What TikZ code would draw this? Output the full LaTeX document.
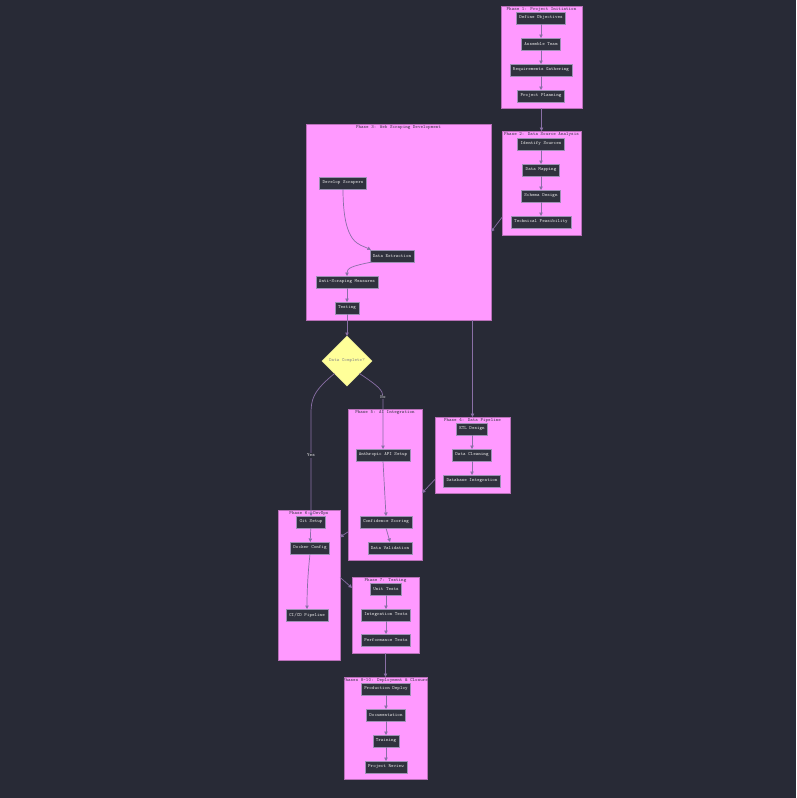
\documentclass[tikz,border=0pt]{standalone}
\usepackage{fontspec}
\usepackage{tikz}
\usetikzlibrary{shapes.geometric,arrows.meta}
\definecolor{bgdark}{HTML}{282A36}
\definecolor{phasefill}{HTML}{FF99FF}
\definecolor{phaseline}{HTML}{B870B8}
\definecolor{phasetext}{HTML}{3C3A48}
\definecolor{taskfill}{HTML}{30323E}
\definecolor{taskline}{HTML}{9C90B4}
\definecolor{tasktext}{HTML}{E4E4E4}
\definecolor{flowline}{HTML}{8A6FA6}
\definecolor{askfill}{HTML}{FFFF99}
\definecolor{asktext}{HTML}{8A8A8A}
\newcommand{\monotiny}{\ttfamily\fontsize{4.8}{5}\selectfont}
\tikzset{
  phase/.style={draw=phaseline, fill=phasefill, line width=0.5pt, inner sep=0pt, outer sep=0pt},
  phasetitle/.style={anchor=north, yshift=-1pt, inner sep=0pt, text=phasetext, font=\monotiny},
  task/.style={draw=taskline, fill=taskfill, text=tasktext, line width=0.5pt, font=\monotiny,
    minimum height=12pt, inner xsep=3pt, inner ysep=0pt, outer sep=0pt},
  ask/.style={diamond, aspect=1, draw=askfill!80!gray, fill=askfill, text=asktext, font=\monotiny,
    minimum width=50pt, minimum height=50pt, inner sep=0pt, outer sep=0pt},
  flow/.style={draw=flowline, line width=0.7pt, ->},
  answer/.style={fill=bgdark, text=tasktext, font=\monotiny, inner sep=1pt}
}
\begin{document}
\begin{tikzpicture}[x=1pt,y=-1pt,>={Triangle[length=3.5pt,width=3.5pt]}]
\fill [bgdark] (0,0) rectangle (796,798);
\useasboundingbox (0,0) rectangle (796,798);

\node [phase, minimum width=81pt, minimum height=102pt] (p1) at (541.5,57) {};
\node [phase, minimum width=79pt, minimum height=104pt] (p2) at (541.5,183) {};
\node [phase, minimum width=185pt, minimum height=196pt] (p3) at (398.5,222) {};
\node [phase, minimum width=75pt, minimum height=76pt] (p4) at (472.5,455) {};
\node [phase, minimum width=74pt, minimum height=151pt] (p5) at (385,484.5) {};
\node [phase, minimum width=62pt, minimum height=150pt] (p6) at (309,585) {};
\node [phase, minimum width=67pt, minimum height=76pt] (p7) at (385.5,615) {};
\node [phase, minimum width=83pt, minimum height=102pt] (p8) at (385.5,728) {};

\node [phasetitle] (p1t) at (p1.north) {Phase 1: Project Initiation};
\node [phasetitle] (p2t) at (p2.north) {Phase 2: Data Source Analysis};
\node [phasetitle] (p3t) at (p3.north) {Phase 3: Web Scraping Development};
\node [phasetitle] (p4t) at (p4.north) {Phase 4: Data Pipeline};
\node [phasetitle] (p5t) at (p5.north) {Phase 5: AI Integration};
\node [phasetitle] (p6t) at (p6.north) {Phase 6: DevOps};
\node [phasetitle] (p7t) at (p7.north) {Phase 7: Testing};
\node [phasetitle] (p8t) at (p8.north) {Phases 8-10: Deployment \& Closure};

\node [task] (defobj) at (541,18) {Define Objectives};
\node [task] (team) at (541,44) {Assemble Team};
\node [task] (reqs) at (541,70) {Requirements Gathering};
\node [task] (plan) at (541,96) {Project Planning};

\node [task] (sources) at (541,144) {Identify Sources};
\node [task] (mapping) at (541,170) {Data Mapping};
\node [task] (schema) at (541,196) {Schema Design};
\node [task] (feas) at (541,222) {Technical Feasibility};

\node [task] (scrapers) at (343,183) {Develop Scrapers};
\node [task] (extract) at (392,256) {Data Extraction};
\node [task] (antiscrape) at (347,282) {Anti-Scraping Measures};
\node [task] (testing) at (347,308) {Testing};

\node [ask] (check) at (347,361) {Data Complete?};

\node [task] (etl) at (472,429) {ETL Design};
\node [task] (cleaning) at (472,455) {Data Cleaning};
\node [task] (dbint) at (472,481) {Database Integration};

\node [task] (api) at (383,455) {Anthropic API Setup};
\node [task] (scoring) at (386,522) {Confidence Scoring};
\node [task] (validation) at (390,548) {Data Validation};

\node [task] (git) at (311,522) {Git Setup};
\node [task] (docker) at (310,548) {Docker Config};
\node [task] (cicd) at (307,615) {CI/CD Pipeline};

\node [task] (unit) at (386,589) {Unit Tests};
\node [task] (integ) at (386,615) {Integration Tests};
\node [task] (perf) at (386,640) {Performance Tests};

\node [task] (deploy) at (386,689) {Production Deploy};
\node [task] (docs) at (386,715) {Documentation};
\node [task] (training) at (386,741) {Training};
\node [task] (review) at (386,767) {Project Review};

\draw [flow] (defobj) -- (team);
\draw [flow] (team) -- (reqs);
\draw [flow] (reqs) -- (plan);
\draw [flow] (p1.south) -- (p2.north);

\draw [flow] (sources) -- (mapping);
\draw [flow] (mapping) -- (schema);
\draw [flow] (schema) -- (feas);
\draw [flow] (p2.221) -- (p3.354);

\draw [flow] (scrapers.south) .. controls (343,246) and (360,244) .. ([xshift=1pt]extract.north west);
\draw [flow] ([xshift=2pt]extract.south west) .. controls (352,266) and (347,268) .. (antiscrape.north);
\draw [flow] (antiscrape) -- (testing);
\draw [flow] (testing) -- (check.north);
\draw [flow] (p3.south -| p4.north) -- (p4.north);

\draw [flow] (check.225) .. controls (312,392) and (311,400) .. (311,415) -- node [answer, pos=0.4] {Yes} (git.north);
\draw [flow] (check.315) .. controls (378,386) and (383,390) .. (383,397) node [answer] {No} -- (api.north);

\draw [flow] (etl) -- (cleaning);
\draw [flow] (cleaning) -- (dbint);
\draw [flow] (p4.213) -- (p5.347);

\draw [flow] (api.south) -- (scoring.north);
\draw [flow] (scoring.south) -- (validation.north);
\draw [flow] (p5.232) -- (p6.57);

\draw [flow] (git) -- (docker);
\draw [flow] (docker.south) .. controls (308,572) and (307,590) .. (cicd.north);
\draw [flow] (p6.14) -- (p7.141);

\draw [flow] (unit) -- (integ);
\draw [flow] (integ) -- (perf);
\draw [flow] (p7.south) -- (p8.north);

\draw [flow] (deploy) -- (docs);
\draw [flow] (docs) -- (training);
\draw [flow] (training) -- (review);
\end{tikzpicture}
\end{document}
